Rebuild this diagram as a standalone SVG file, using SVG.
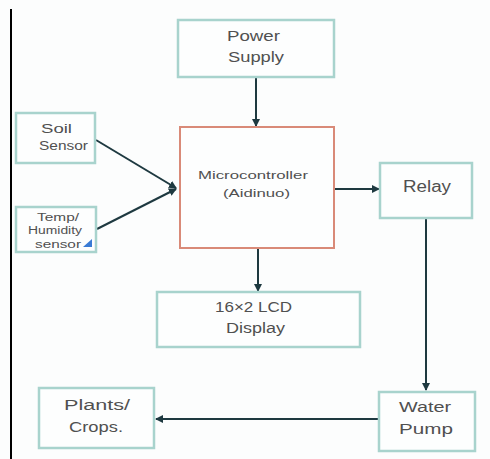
<svg xmlns="http://www.w3.org/2000/svg" width="490" height="459" viewBox="0 0 490 459">
<defs>
<style>
.box{fill:#fdfefe;stroke:#a8d3cd;stroke-width:2.5}
.mc{fill:#fdfefe;stroke:#d98a78;stroke-width:2}
.t{font-family:"Liberation Sans",Arial,sans-serif;fill:#505050}
.c{stroke:#1e3940;stroke-width:2;fill:none;marker-end:url(#ah)}
</style>
<marker id="ah" markerWidth="8" markerHeight="8" refX="7" refY="4" orient="auto" markerUnits="userSpaceOnUse">
<path d="M0,0 L8,4 L0,8 Z" fill="#1e3940"/>
</marker>
</defs>
<rect width="490" height="459" fill="#fcfdfd"/>
<line x1="11" y1="9" x2="11" y2="459" stroke="#000" stroke-width="2"/>
<g id="connectors">
<line class="c" x1="256" y1="77" x2="256" y2="126"/>
<line class="c" x1="96" y1="140" x2="176" y2="188"/>
<line class="c" x1="97" y1="229" x2="176" y2="189"/>
<line class="c" x1="335" y1="189" x2="379" y2="189"/>
<line class="c" x1="258" y1="248" x2="258" y2="291"/>
<line class="c" x1="426" y1="218" x2="426" y2="390"/>
<line class="c" x1="379" y1="419" x2="156" y2="419"/>
</g>
<g id="power">
<rect class="box" x="178" y="20" width="156" height="57"/>
<text class="t" x="227" y="41" font-size="15" textLength="53" lengthAdjust="spacingAndGlyphs">Power</text>
<text class="t" x="228" y="62" font-size="15" textLength="56" lengthAdjust="spacingAndGlyphs">Supply</text>
</g>
<g id="soil">
<rect class="box" x="16" y="113" width="79" height="50"/>
<text class="t" x="41" y="133" font-size="12" textLength="31" lengthAdjust="spacingAndGlyphs">Soil</text>
<text class="t" x="39" y="150" font-size="12" textLength="49" lengthAdjust="spacingAndGlyphs">Sensor</text>
</g>
<g id="temp">
<rect class="box" x="16" y="207" width="80" height="45"/>
<text class="t" x="37" y="221" font-size="10" textLength="42" lengthAdjust="spacingAndGlyphs">Temp/</text>
<text class="t" x="28" y="234" font-size="10" textLength="54" lengthAdjust="spacingAndGlyphs">Humidity</text>
<text class="t" x="35" y="248" font-size="10" textLength="46" lengthAdjust="spacingAndGlyphs">sensor</text>
<path d="M92,239 L92,247 L83,247 Z" fill="#3a7bd5"/>
</g>
<g id="micro">
<rect class="mc" x="180" y="127" width="154" height="121"/>
<text class="t" x="198" y="179" font-size="11" textLength="110" lengthAdjust="spacingAndGlyphs">Microcontroller</text>
<text class="t" x="223" y="197" font-size="11" textLength="67" lengthAdjust="spacingAndGlyphs">(Aidinuo)</text>
</g>
<g id="relay">
<rect class="box" x="380" y="163" width="92" height="55"/>
<text class="t" x="403" y="192" font-size="16" textLength="48" lengthAdjust="spacingAndGlyphs">Relay</text>
</g>
<g id="lcd">
<rect class="box" x="157" y="292" width="203" height="55"/>
<text class="t" x="215" y="312" font-size="14" textLength="77" lengthAdjust="spacingAndGlyphs">16×2 LCD</text>
<text class="t" x="226" y="333" font-size="14" textLength="59" lengthAdjust="spacingAndGlyphs">Display</text>
</g>
<g id="pump">
<rect class="box" x="379" y="392" width="96" height="59"/>
<text class="t" x="399" y="412" font-size="14" textLength="52" lengthAdjust="spacingAndGlyphs">Water</text>
<text class="t" x="399" y="434" font-size="14" textLength="54" lengthAdjust="spacingAndGlyphs">Pump</text>
</g>
<g id="plants">
<rect class="box" x="39" y="388" width="115" height="60"/>
<text class="t" x="64" y="410" font-size="14" textLength="66" lengthAdjust="spacingAndGlyphs">Plants/</text>
<text class="t" x="69" y="432" font-size="14" textLength="54" lengthAdjust="spacingAndGlyphs">Crops.</text>
</g>
</svg>
